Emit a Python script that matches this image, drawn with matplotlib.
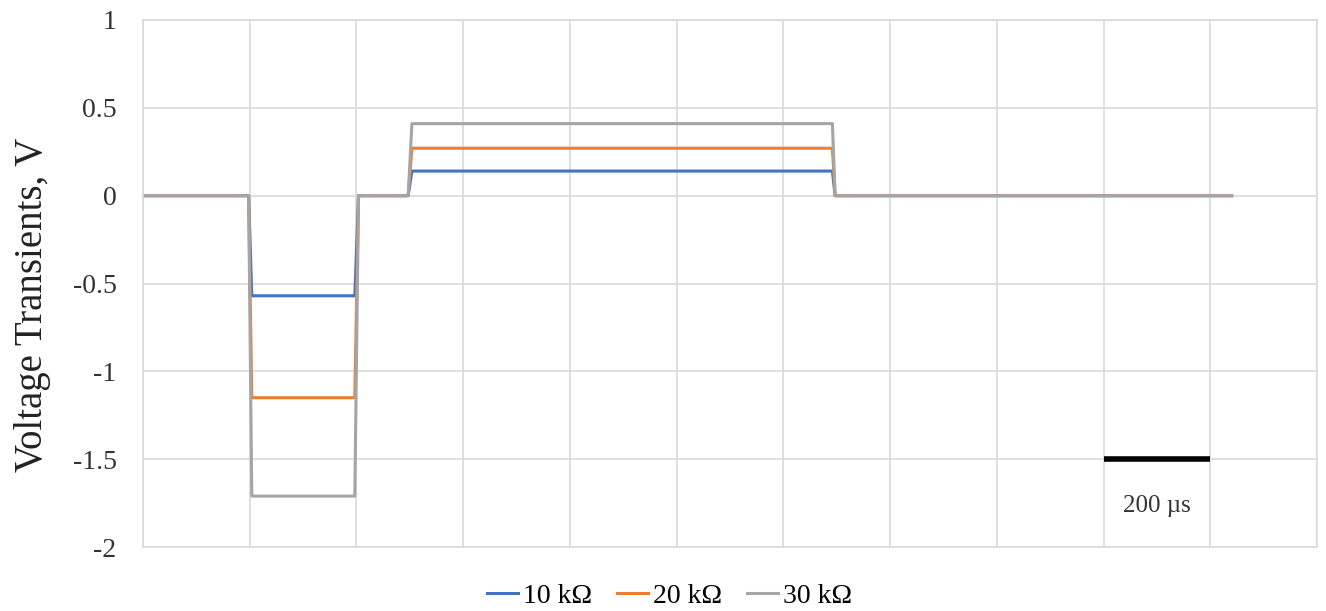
import matplotlib.pyplot as plt

# time breakpoints (us), one division = 200 us
times = [0, 198, 204, 397, 404, 497, 504, 1292, 1297, 2040]
series_names = ["10 k\u03a9", "20 k\u03a9", "30 k\u03a9"]
blue_v = [0, 0, -0.57, -0.57, 0, 0, 0.14, 0.14, 0, 0]
orange_v = [0, 0, -1.15, -1.15, 0, 0, 0.27, 0.27, 0, 0]
gray_v = [0, 0, -1.71, -1.71, 0, 0, 0.41, 0.41, 0, 0]
colors = ["#4472C4", "#ED7D31", "#A5A5A5"]

scale_bar = (1800, 2000)
scale_bar_y = -1.5
y_ticks = [1, 0.5, 0, -0.5, -1, -1.5, -2]
x_grid = list(range(0, 2201, 200))

plt.rcParams['font.family'] = ['Liberation Serif', 'DejaVu Serif']

fig = plt.figure(figsize=(13.26, 6.11), dpi=100)
ax = fig.add_axes([0.1078, 0.1047, 0.8854, 0.8626])

for vals, name, c in zip([blue_v, orange_v, gray_v], series_names, colors):
    ax.plot(times, vals, color=c, lw=2.2, label=name, solid_joinstyle='round')

ax.plot(scale_bar, [scale_bar_y, scale_bar_y], color='black', lw=4, solid_capstyle='butt')
ax.text(sum(scale_bar) / 2, -1.765, "200 \u00b5s", ha='center', va='center',
        fontsize=18, color='#333333')

ax.set_xlim(0, 2200)
ax.set_ylim(-2, 1)
ax.set_xticks(x_grid)
ax.set_xticklabels([])
ax.set_yticks(y_ticks)
ax.set_yticklabels([str(t) if t != int(t) else str(int(t)) for t in y_ticks])
ax.tick_params(length=0, labelsize=20, pad=19, colors='#333333')
ax.grid(True, color='#D9D9D9', lw=1.2)
ax.set_axisbelow(True)
for s in ax.spines.values():
    s.set_color('#D9D9D9')
    s.set_linewidth(1.2)

ax.set_ylabel("Voltage Transients, V", fontsize=28, color='#222222')
ax.yaxis.set_label_coords(-0.078, 0.46)

fig.legend(loc='lower center', bbox_to_anchor=(0.505, -0.038), ncol=3, frameon=False,
           fontsize=20, handlelength=1.1, handletextpad=0.2, columnspacing=0.9)

fig.savefig("out.png", dpi=100)
